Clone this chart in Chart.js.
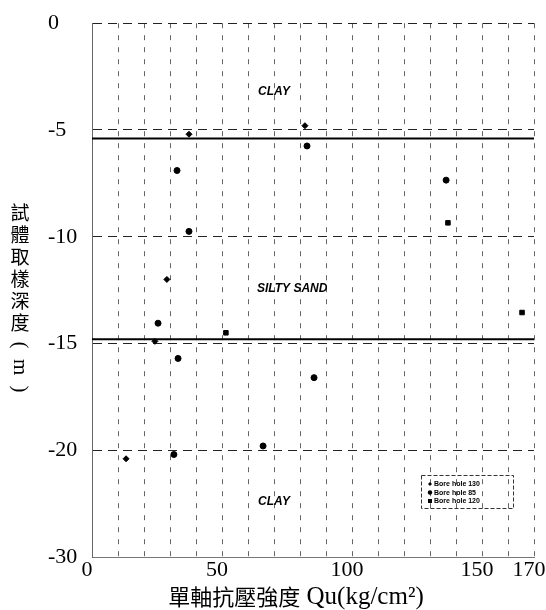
<!DOCTYPE html>
<html>
<head>
<meta charset="utf-8">
<script src="https://cdn.jsdelivr.net/npm/chart.js@4.4.0/dist/chart.umd.min.js"></script>
<style>
  html, body { margin: 0; padding: 0; background: #fff; }
</style>
</head>
<body>
<canvas id="quChart" width="546" height="610"></canvas>
<script>
// Unconfined compressive strength Qu (kg/cm2) vs sampling depth (m)
const hole130Qu = [37.3, 81.9, 28.8, 24.2, 13.1];
const hole130Depth = [-5.2, -4.8, -12.0, -14.9, -20.4];
const hole85Qu = [82.7, 32.7, 37.3, 136.2, 25.4, 33.1, 85.4, 31.5, 65.8];
const hole85Depth = [-5.75, -6.9, -9.75, -7.35, -14.05, -15.7, -16.6, -20.2, -19.8];
const hole120Qu = [136.9, 51.5, 165.4];
const hole120Depth = [-9.35, -14.5, -13.55];

// Soil layer boundaries (m)
const layerBoundaries = [-5.4, -14.8];
const layerNames = ['CLAY', 'SILTY SAND', 'CLAY'];
const layerLabelQu = [70, 77, 70];
const layerLabelDepth = [-3.2, -12.45, -22.4];

// Axis ticks
const xTickValues = [0, 50, 100, 150, 170];
const yTickValues = [0, -5, -10, -15, -20, -25];
const yTickLabels = ['0', '-5', '-10', '-15', '-20', '-30'];

const legendLabels = ['Bore hole 130', 'Bore hole 85', 'Bore hole 120'];
const yTitleChars = ['試', '體', '取', '樣', '深', '度', '(', 'm', ')'];
const xTitleCjk = '單軸抗壓強度';
const xTitleLatin = ' Qu(kg/cm²)';

function toPoints(xs, ys) {
    return xs.map(function(x, i) { return { x: x, y: ys[i] }; });
}

const serif = '"Liberation Serif", "Noto Sans CJK TC", serif';

// boundary lines across the full width
const boundaryDatasets = layerBoundaries.map(function(d) {
    return {
        type: 'line',
        label: '',
        data: [{ x: 0, y: d }, { x: 170, y: d }],
        borderColor: '#000',
        borderWidth: 2,
        pointRadius: 0,
        fill: false
    };
});

// Region names, axis titles and inset legend
const decorPlugin = {
    id: 'decor',
    afterDatasetsDraw: function(chart) {
        const ctx = chart.ctx;
        const xs = chart.scales.x, ys = chart.scales.y;
        const ca = chart.chartArea;
        ctx.save();
        ctx.fillStyle = '#000';
        ctx.textAlign = 'center';
        ctx.textBaseline = 'middle';
        ctx.font = 'italic bold 12px "Liberation Sans", Arial, sans-serif';
        layerNames.forEach(function(name, i) {
            ctx.fillText(name, xs.getPixelForValue(layerLabelQu[i]), ys.getPixelForValue(layerLabelDepth[i]));
        });

        // legend box
        const bx = ca.right - 113, by = ca.bottom - 82, bw = 92, bh = 33;
        ctx.strokeStyle = '#333';
        ctx.lineWidth = 1;
        ctx.setLineDash([4, 2]);
        ctx.strokeRect(bx + 0.5, by + 0.5, bw, bh);
        ctx.setLineDash([]);
        ctx.font = 'bold 7px "Liberation Sans", Arial, sans-serif';
        ctx.textAlign = 'left';
        legendLabels.forEach(function(lab, i) {
            const ly = by + 9 + i * 8.5;
            const mx = bx + 9;
            ctx.beginPath();
            if (i === 0) {
                ctx.moveTo(mx, ly - 2); ctx.lineTo(mx + 2, ly); ctx.lineTo(mx, ly + 2); ctx.lineTo(mx - 2, ly);
                ctx.closePath();
            } else if (i === 1) {
                ctx.arc(mx, ly, 2.2, 0, Math.PI * 2);
            } else {
                ctx.rect(mx - 2, ly - 2, 4, 4);
            }
            ctx.fill();
            ctx.fillText(lab, mx + 4, ly + 0.5);
        });

        // x-axis title, CJK and latin parts in their own fonts
        const cjkFont = '22px "Noto Sans CJK TC", sans-serif';
        const latFont = '25px "Liberation Serif", serif';
        ctx.font = cjkFont;
        const w1 = ctx.measureText(xTitleCjk).width;
        ctx.font = latFont;
        const w2 = ctx.measureText(xTitleLatin).width;
        let tx = (ca.left + ca.right) / 2 - 17 - (w1 + w2) / 2;
        const ty = ca.bottom + 40;
        ctx.textAlign = 'left';
        ctx.font = cjkFont;
        ctx.fillText(xTitleCjk, tx, ty);
        ctx.font = latFont;
        ctx.fillText(xTitleLatin, tx + w1, ty);

        // stacked vertical y-axis title
        const cy = (ca.top + ca.bottom) / 2 + 11;
        const step = 22;
        const start = cy - (yTitleChars.length - 1) * step / 2;
        ctx.textAlign = 'center';
        yTitleChars.forEach(function(ch, i) {
            const y = start + i * step;
            if (i >= 6) {
                ctx.save();
                ctx.translate(20, y);
                ctx.rotate(Math.PI / 2);
                ctx.font = '21px ' + serif;
                ctx.fillText(ch, 0, 0);
                ctx.restore();
            } else {
                ctx.font = '19px "Noto Sans CJK TC", sans-serif';
                ctx.fillText(ch, 20, y);
            }
        });
        ctx.restore();
    }
};

const ctx = document.getElementById('quChart').getContext('2d');
window.quChart = new Chart(ctx, {
    type: 'scatter',
    data: {
        datasets: [
            {
                label: legendLabels[0],
                data: toPoints(hole130Qu, hole130Depth),
                backgroundColor: '#000',
                borderColor: '#000',
                pointStyle: 'rectRot',
                pointRadius: 3
            },
            {
                label: legendLabels[1],
                data: toPoints(hole85Qu, hole85Depth),
                backgroundColor: '#000',
                borderColor: '#000',
                pointStyle: 'circle',
                pointRadius: 3
            },
            {
                label: legendLabels[2],
                data: toPoints(hole120Qu, hole120Depth),
                backgroundColor: '#000',
                borderColor: '#000',
                pointStyle: 'rect',
                pointRadius: 3.2
            }
        ].concat(boundaryDatasets)
    },
    options: {
        responsive: false,
        animation: false,
        layout: { padding: { top: 18, right: 12, left: 48, bottom: 0 } },
        plugins: {
            legend: { display: false },
            tooltip: { enabled: false }
        },
        scales: {
            x: {
                type: 'linear',
                min: 0,
                max: 170,
                afterFit: function(scale) {
                    scale.height = 53;
                    scale.paddingRight = 0;
                    scale.paddingLeft = 0;
                },
                ticks: {
                    stepSize: 10,
                    autoSkip: false,
                    maxRotation: 0,
                    padding: 0,
                    labelOffset: -5,
                    color: '#000',
                    font: { family: serif, size: 22 },
                    callback: function(value) {
                        return xTickValues.indexOf(value) >= 0 ? String(value) : '';
                    }
                },
                grid: {
                    color: '#666',
                    lineWidth: 1,
                    drawTicks: false
                },
                border: { color: '#777', dash: [5, 7] }
            },
            y: {
                type: 'linear',
                min: -25,
                max: 0,
                afterFit: function(scale) { scale.width = 44; },
                afterBuildTicks: function(scale) {
                    scale.ticks = yTickValues.map(function(v) { return { value: v }; });
                },
                ticks: {
                    padding: 10,
                    crossAlign: 'far',
                    color: '#000',
                    font: { family: serif, size: 22 },
                    callback: function(value) {
                        const i = yTickValues.indexOf(value);
                        return i >= 0 ? yTickLabels[i] : '';
                    }
                },
                grid: {
                    color: '#222',
                    lineWidth: 1,
                    drawTicks: false
                },
                border: { color: '#666', dash: [9, 6] }
            }
        }
    },
    plugins: [decorPlugin]
});
</script>
</body>
</html>
